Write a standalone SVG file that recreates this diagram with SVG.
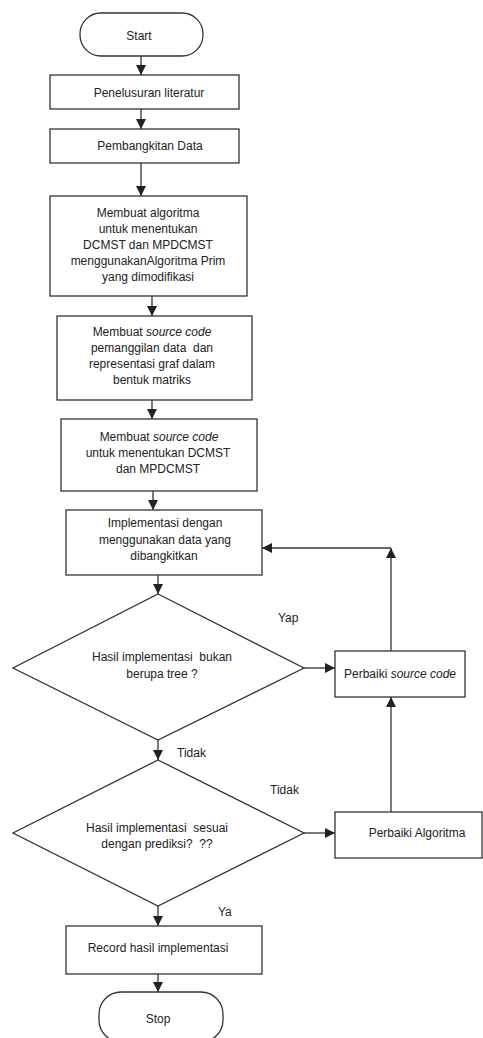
<svg xmlns="http://www.w3.org/2000/svg" width="483" height="1038" viewBox="0 0 483 1038">
<style>
  .shape { fill: #ffffff; stroke: #333333; stroke-width: 1.3; }
  .conn { fill: none; stroke: #333333; stroke-width: 1.3; }
  text { font-family: "Liberation Sans", Arial, sans-serif; font-size: 12px; fill: #222222; white-space: pre; }
  .c { text-anchor: middle; }
  .i { font-style: italic; }
</style>
<defs>
  <marker id="arrow" markerUnits="userSpaceOnUse" markerWidth="10" markerHeight="10" viewBox="0 0 10 10" refX="10" refY="5" orient="auto">
    <path d="M0,0 L10,5 L0,10 z" fill="#222222"/>
  </marker>
</defs>
<rect width="483" height="1038" fill="#ffffff"/>

<g id="connectors">
  <path class="conn" d="M141,56 V75" marker-end="url(#arrow)"/>
  <path class="conn" d="M141,109 V129" marker-end="url(#arrow)"/>
  <path class="conn" d="M141,163 V196" marker-end="url(#arrow)"/>
  <path class="conn" d="M152,296 V316" marker-end="url(#arrow)"/>
  <path class="conn" d="M152,400 V419" marker-end="url(#arrow)"/>
  <path class="conn" d="M153,491 V510" marker-end="url(#arrow)"/>
  <path class="conn" d="M158,575 V594" marker-end="url(#arrow)"/>
  <path class="conn" d="M158,740 V760" marker-end="url(#arrow)"/>
  <path class="conn" d="M304,668 H335" marker-end="url(#arrow)"/>
  <path class="conn" d="M304,833 H335" marker-end="url(#arrow)"/>
  <path class="conn" d="M391,812 V697" marker-end="url(#arrow)"/>
  <path class="conn" d="M391,651 V548" marker-end="url(#arrow)"/>
  <path class="conn" d="M391,548 H262" marker-end="url(#arrow)"/>
  <path class="conn" d="M158,906 V926" marker-end="url(#arrow)"/>
  <path class="conn" d="M158,974 V992" marker-end="url(#arrow)"/>
</g>

<g id="start">
  <rect class="shape" x="80" y="13" width="123" height="43" rx="21" ry="21"/>
  <text class="c" x="139" y="40">Start</text>
</g>
<g id="penelusuran">
  <rect class="shape" x="50" y="75" width="189" height="34"/>
  <text class="c" x="149" y="97">Penelusuran literatur</text>
</g>
<g id="pembangkitan">
  <rect class="shape" x="50" y="129" width="189" height="34"/>
  <text class="c" x="150" y="150">Pembangkitan Data</text>
</g>
<g id="algoritma">
  <rect class="shape" x="50" y="196" width="197" height="100"/>
  <text class="c" x="148" y="217">Membuat algoritma</text>
  <text class="c" x="148" y="233">untuk menentukan</text>
  <text class="c" x="148" y="249">DCMST dan MPDCMST</text>
  <text class="c" x="148" y="265">menggunakanAlgoritma Prim</text>
  <text class="c" x="148" y="281">yang dimodifikasi</text>
</g>
<g id="sourcecode1">
  <rect class="shape" x="57" y="316" width="195" height="84"/>
  <text class="c" x="152" y="336">Membuat <tspan class="i">source code</tspan></text>
  <text class="c" x="152" y="352">pemanggilan data  dan</text>
  <text class="c" x="152" y="368">representasi graf dalam</text>
  <text class="c" x="152" y="384">bentuk matriks</text>
</g>
<g id="sourcecode2">
  <rect class="shape" x="61" y="419" width="196" height="72"/>
  <text class="c" x="159" y="441">Membuat <tspan class="i">source code</tspan></text>
  <text class="c" x="158" y="457">untuk menentukan DCMST</text>
  <text class="c" x="158" y="473">dan MPDCMST</text>
</g>
<g id="implementasi">
  <rect class="shape" x="66" y="510" width="196" height="65"/>
  <text class="c" x="165" y="527">Implementasi dengan</text>
  <text class="c" x="165" y="544">menggunakan data yang</text>
  <text class="c" x="164" y="560">dibangkitkan</text>
</g>
<g id="decision1">
  <polygon class="shape" points="158,594 304,668 158,740 13,668"/>
  <text class="c" x="162" y="661">Hasil implementasi  bukan</text>
  <text class="c" x="162" y="678">berupa tree ?</text>
</g>
<g id="perbaiki-source">
  <rect class="shape" x="335" y="651" width="130" height="46"/>
  <text class="c" x="400" y="678">Perbaiki <tspan class="i">source code</tspan></text>
</g>
<g id="decision2">
  <polygon class="shape" points="158,760 304,833 158,906 13,833"/>
  <text class="c" x="157" y="832">Hasil implementasi  sesuai</text>
  <text class="c" x="157" y="848">dengan prediksi?  ??</text>
</g>
<g id="perbaiki-algoritma">
  <rect class="shape" x="335" y="812" width="147" height="46"/>
  <text class="c" x="417" y="837">Perbaiki Algoritma</text>
</g>
<g id="record">
  <rect class="shape" x="66" y="926" width="196" height="48"/>
  <text class="c" x="158" y="952">Record hasil implementasi</text>
</g>
<g id="stop">
  <rect class="shape" x="99" y="992" width="124" height="50" rx="22" ry="22"/>
  <text class="c" x="158" y="1023">Stop</text>
</g>
<g id="labels">
  <text x="278" y="622">Yap</text>
  <text x="177" y="757">Tidak</text>
  <text x="270" y="794">Tidak</text>
  <text x="218" y="916">Ya</text>
</g>
</svg>
